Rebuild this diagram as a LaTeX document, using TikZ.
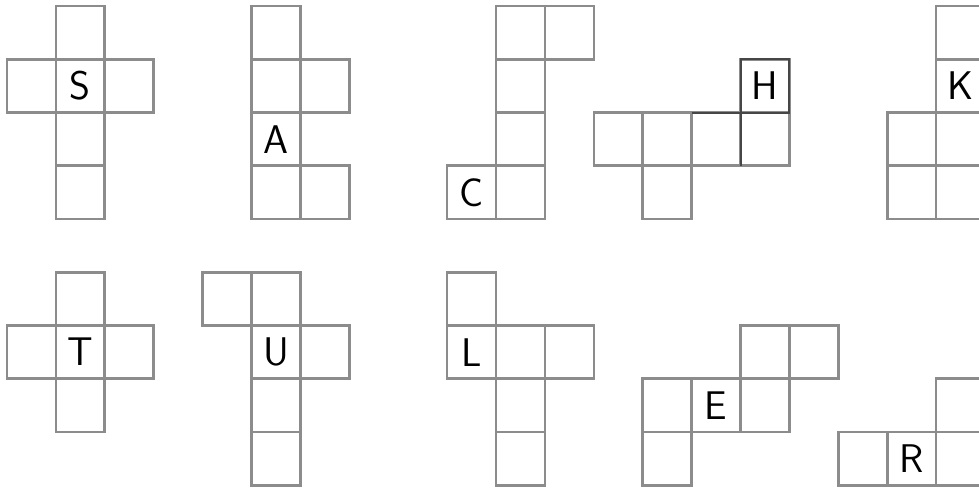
\documentclass[tikz,border=0pt]{standalone}
\definecolor{cellgray}{RGB}{140,140,140}
\definecolor{darkline}{RGB}{70,70,70}
\tikzset{
  cellbox/.style={draw=cellgray, line width=2.6pt},
  darkedge/.style={draw=darkline, line width=2pt},
  letter/.style={font=\sffamily\fontsize{40}{40}\selectfont, text=black, inner sep=0pt}
}
\begin{document}
\begin{tikzpicture}[x=48.9pt, y=-53.25pt]
\useasboundingbox (-0.1431,-0.1127) rectangle (19.877,9.0329);
\clip (-0.1431,-0.1127) rectangle (19.877,9.0329);
\fill[white] (-0.1431,-0.1127) rectangle (19.877,9.0329);
% cells of the nets
\foreach \k/\j in {
  1/0,1/1,1/2,1/3,0/1,2/1,
  5/0,5/1,5/2,5/3,6/1,6/3,
  10/0,10/1,10/2,10/3,11/0,9/3,
  12/2,13/2,14/2,15/2,15/1,13/3,
  19/0,19/1,19/2,19/3,18/2,18/3,
  1/5,1/6,1/7,0/6,2/6,
  5/5,5/6,5/7,5/8,4/5,6/6,
  9/5,9/6,10/6,11/6,10/7,10/8,
  15/6,16/6,13/7,14/7,15/7,13/8,
  17/8,18/8,19/8,19/7}
  \draw[cellbox] (\k,\j) rectangle ++(1,1);
% darker edges around H
\draw[darkedge] (15,1) rectangle (16,2);
\draw[darkedge] (14,2) -- (15,2) -- (15,3);
% letters
\node[letter] (ls) at (1.5,1.5) {S};
\node[letter] (la) at (5.5,2.5) {A};
\node[letter] (lc) at (9.5,3.5) {C};
\node[letter] (lh) at (15.5,1.5) {H};
\node[letter] (lk) at (19.5,1.5) {K};
\node[letter] (lt) at (1.5,6.5) {T};
\node[letter] (lu) at (5.5,6.5) {U};
\node[letter] (ll) at (9.5,6.5) {L};
\node[letter] (le) at (14.5,7.5) {E};
\node[letter] (lr) at (18.5,8.5) {R};
\end{tikzpicture}
\end{document}
